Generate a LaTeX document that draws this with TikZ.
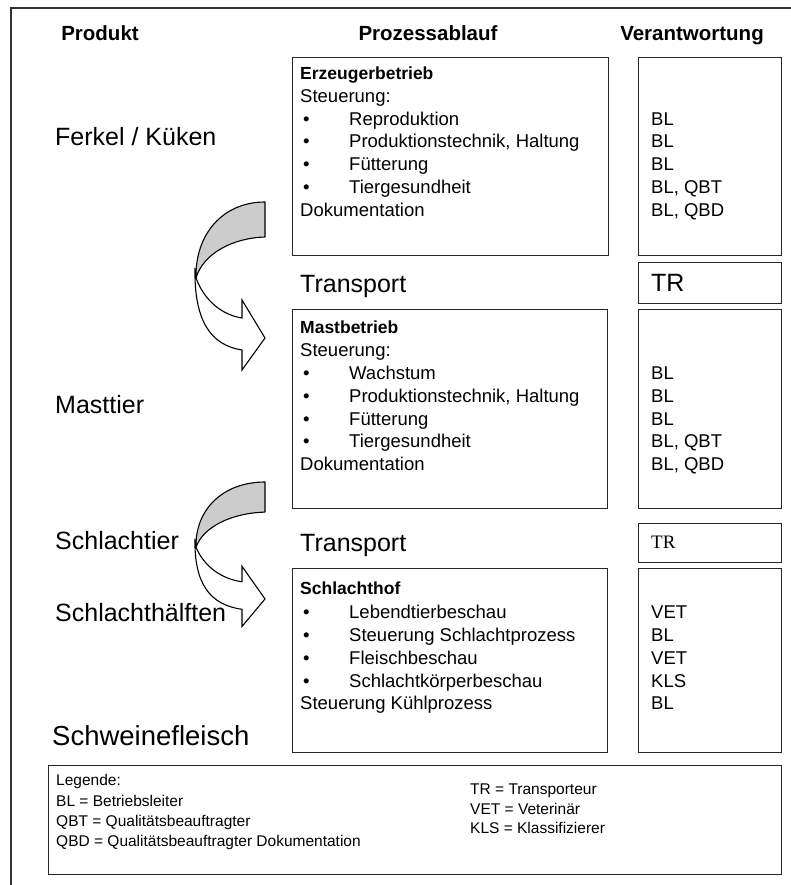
\documentclass[tikz,border=0pt]{standalone}
\usepackage{fontspec}
\setmainfont{Liberation Sans}
\newfontfamily\serifTR{Liberation Serif}
\begin{document}
\begin{tikzpicture}[x=1pt,y=-1pt,
  frame/.style={draw=black!80, line width=1.6pt},
  box/.style={draw=black!85, line width=1.3pt, inner sep=0pt, anchor=north west},
  hdr/.style={font=\bfseries\fontsize{20.5}{24}\selectfont, inner sep=0pt, text height=14.7pt, text depth=0pt},
  big/.style={font=\fontsize{25}{30}\selectfont, anchor=west, inner sep=0pt, text height=17.9pt, text depth=0pt},
  bigger/.style={font=\fontsize{27.5}{32}\selectfont, anchor=west, inner sep=0pt, text height=19.7pt, text depth=0pt},
  body/.style={font=\fontsize{18.5}{22}\selectfont, anchor=west, inner sep=0pt, text height=13.2pt, text depth=0pt},
  ttl/.style={font=\bfseries\fontsize{17.5}{21}\selectfont, anchor=west, inner sep=0pt, text height=12.5pt, text depth=0pt},
  leg/.style={font=\fontsize{15.5}{19}\selectfont, anchor=west, inner sep=0pt, text height=11.1pt, text depth=0pt},
  backband/.style={draw=black, line width=1.1pt, fill=black!20, line join=round},
  frontband/.style={draw=black, line width=1.1pt, fill=white, line join=miter}
]
\useasboundingbox (0,0) rectangle (791,885);
\fill[white] (0,0) rectangle (791,885);

% outer frame (top and left)
\coordinate (fTL) at (11,8);
\coordinate (fTR) at (791,8);
\coordinate (fBL) at (11,885);
\draw[frame] (fTR) -- (fTL) -- (fBL);

% headers
\node[hdr] (hProdukt) at (100,33) {Produkt};
\node[hdr] (hProzess) at (428,33) {Prozessablauf};
\node[hdr] (hVerant) at (692,33) {Verantwortung};

% boxes
\node[box, minimum width=316pt, minimum height=198pt] (b1) at (292,57) {};
\node[box, minimum width=143pt, minimum height=198pt] (r1) at (638,57) {};
\node[box, minimum width=143pt, minimum height=41pt] (t1) at (638,262) {};
\node[box, minimum width=315pt, minimum height=199pt] (b2) at (292,309) {};
\node[box, minimum width=143pt, minimum height=199pt] (r2) at (638,309) {};
\node[box, minimum width=143pt, minimum height=39pt] (t2) at (638,523) {};
\node[box, minimum width=315pt, minimum height=184pt] (b3) at (292,568) {};
\node[box, minimum width=143pt, minimum height=184pt] (r3) at (638,568) {};
\node[box, minimum width=733pt, minimum height=109pt] (lg) at (48,765) {};

% left labels
\node[big] (lFerkel) at (55,137) {Ferkel / Küken};
\node[big] (lMast) at (55,405) {Masttier};
\node[big] (lSchlT) at (55,541) {Schlachtier};
\node[big] (lSchlH) at (55,613) {Schlachthälften};
\node[bigger] (lFleisch) at (52,736) {Schweinefleisch};

% box 1
\node[ttl] (e0) at (300,73) {Erzeugerbetrieb};
\node[body] (e1) at (300,96) {Steuerung:};
\node[body] (e2b) at (303,118.5) {•};
\node[body] (e2) at (349,118.5) {Reproduktion};
\node[body] (e3b) at (303,141) {•};
\node[body] (e3) at (349,141) {Produktionstechnik, Haltung};
\node[body] (e4b) at (303,164) {•};
\node[body] (e4) at (349,164) {Fütterung};
\node[body] (e5b) at (303,187) {•};
\node[body] (e5) at (349,187) {Tiergesundheit};
\node[body] (e6) at (300,209.5) {Dokumentation};
\node[body] (v2) at (651,118.5) {BL};
\node[body] (v3) at (651,141) {BL};
\node[body] (v4) at (651,164) {BL};
\node[body] (v5) at (651,187) {BL, QBT};
\node[body] (v6) at (651,209.5) {BL, QBD};

% transport 1
\node[big] (tr1) at (300,284) {Transport};
\node[big] (tr1v) at (651,283) {TR};

% box 2
\node[ttl] (m0) at (300,327) {Mastbetrieb};
\node[body] (m1) at (300,350) {Steuerung:};
\node[body] (m2b) at (303,372.5) {•};
\node[body] (m2) at (349,372.5) {Wachstum};
\node[body] (m3b) at (303,395.5) {•};
\node[body] (m3) at (349,395.5) {Produktionstechnik, Haltung};
\node[body] (m4b) at (303,418.5) {•};
\node[body] (m4) at (349,418.5) {Fütterung};
\node[body] (m5b) at (303,441) {•};
\node[body] (m5) at (349,441) {Tiergesundheit};
\node[body] (m6) at (300,463.5) {Dokumentation};
\node[body] (w2) at (651,372.5) {BL};
\node[body] (w3) at (651,395.5) {BL};
\node[body] (w4) at (651,418.5) {BL};
\node[body] (w5) at (651,441) {BL, QBT};
\node[body] (w6) at (651,463.5) {BL, QBD};

% transport 2
\node[big] (tr2) at (300,543) {Transport};
\node[font=\serifTR\fontsize{19}{22}\selectfont, anchor=west, inner sep=0pt, text height=12.7pt, text depth=0pt] (tr2v) at (651,542) {TR};

% box 3
\node[ttl] (s0) at (300,588) {Schlachthof};
\node[body] (s1b) at (303,611.5) {•};
\node[body] (s1) at (349,611.5) {Lebendtierbeschau};
\node[body] (s2b) at (303,634.5) {•};
\node[body] (s2) at (349,634.5) {Steuerung Schlachtprozess};
\node[body] (s3b) at (303,657.5) {•};
\node[body] (s3) at (349,657.5) {Fleischbeschau};
\node[body] (s4b) at (303,680.5) {•};
\node[body] (s4) at (349,680.5) {Schlachtkörperbeschau};
\node[body] (s5) at (300,703) {Steuerung Kühlprozess};
\node[body] (x1) at (651,611.5) {VET};
\node[body] (x2) at (651,634.5) {BL};
\node[body] (x3) at (651,657.5) {VET};
\node[body] (x4) at (651,680.5) {KLS};
\node[body] (x5) at (651,703) {BL};

% legend
\node[leg] (g0) at (56,780) {Legende:};
\node[leg] (g1) at (56,800.5) {BL = Betriebsleiter};
\node[leg] (g2) at (56,820.5) {QBT = Qualitätsbeauftragter};
\node[leg] (g3) at (56,840.5) {QBD = Qualitätsbeauftragter Dokumentation};
\node[leg] (g4) at (470,789) {TR = Transporteur};
\node[leg] (g5) at (470,808.5) {VET = Veterinär};
\node[leg] (g6) at (470,828) {KLS = Klassifizierer};

% curved arrows
\begin{scope}[shift={(265,202)}]
  \draw[backband] (0,0) .. controls (-42,0) and (-70,32) .. (-69,76)
        .. controls (-62,52) and (-33,36) .. (0,35) -- cycle;
  \draw[frontband] (-69,76) .. controls (-60,100) and (-42,113) .. (-23,116)
        -- (-23,98) -- (0,136) -- (-23,168) -- (-23,148)
        .. controls (-55,143) and (-71,118) .. (-70,66) -- cycle;
\end{scope}
\begin{scope}[shift={(265,482)}, yscale=0.86]
  \draw[backband] (0,0) .. controls (-42,0) and (-70,32) .. (-69,76)
        .. controls (-62,52) and (-33,36) .. (0,35) -- cycle;
  \draw[frontband] (-69,76) .. controls (-60,100) and (-42,113) .. (-23,116)
        -- (-23,98) -- (0,136) -- (-23,168) -- (-23,148)
        .. controls (-55,143) and (-71,118) .. (-70,66) -- cycle;
\end{scope}
\end{tikzpicture}
\end{document}
